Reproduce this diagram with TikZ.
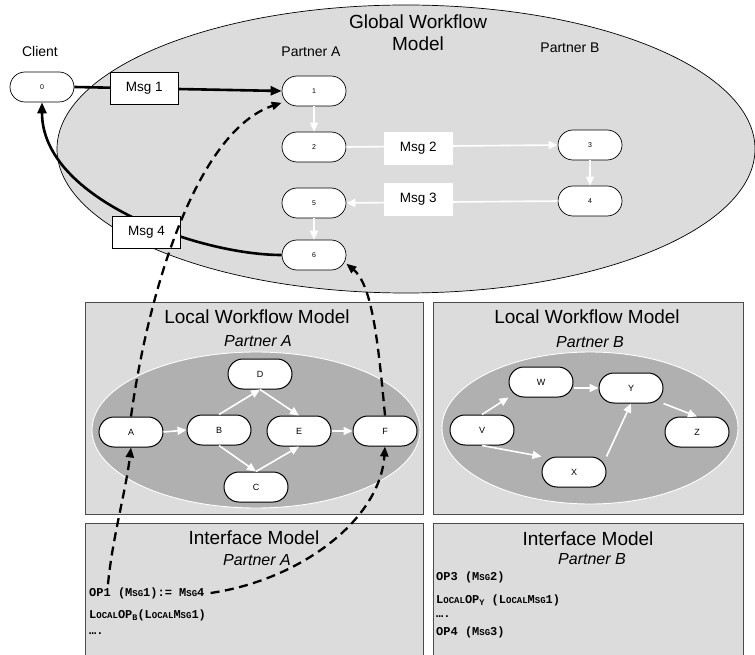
\documentclass[tikz,border=0pt]{standalone}
\usepackage{fontspec}
\setmainfont{Liberation Sans}
\newfontfamily\codefont{Liberation Mono}
\usetikzlibrary{arrows.meta}

\definecolor{modelgray}{RGB}{220,220,220}
\definecolor{poolgray}{RGB}{176,176,176}

\newcommand\fsz[1]{\fontsize{#1}{#1}\selectfont}
% reduced capitals for the operation names
\newcommand\lowcaps[1]{{\fontsize{9}{9}\selectfont #1}}
\newcommand\opsub[1]{\raisebox{-2.5pt}{\fontsize{8.5}{9}\selectfont #1}}

\begin{document}
\begin{tikzpicture}[x=1pt, y=-1pt,
  gnode/.style={draw, fill=white, line width=0.7pt, rounded corners=15pt, minimum width=64pt, minimum height=30pt, inner sep=0pt, font=\fsz{7}},
  lnode/.style={gnode, line width=1pt, font=\fsz{9}},
  msgbox/.style={draw, fill=white, line width=0.9pt, minimum width=68pt, minimum height=32pt, inner sep=0pt, font=\fsz{13.5}},
  heading/.style={font=\fontsize{19}{22}\selectfont, align=center},
  partner/.style={font=\fsz{16}\itshape},
  lane/.style={font=\fsz{14}},
  ifline/.style={anchor=west, inner sep=0pt, font=\codefont\bfseries\fsz{12}},
  panel/.style={draw=black!70, fill=modelgray, line width=0.9pt},
  pool/.style={draw=white, fill=poolgray, line width=0.9pt},
  passflow/.style={draw=white, line width=1.6pt, -{Triangle[length=9pt,width=8pt,fill=white]}},
  msgflow/.style={line width=2.6pt, -{Triangle[length=11pt,width=9pt]}},
  linkflow/.style={line width=2.3pt, dash pattern=on 9pt off 5.5pt, -{Triangle[length=10pt,width=8pt]}}]
\useasboundingbox (0,0) rectangle (755,655);

% global model
\draw[fill=modelgray, line width=0.7pt] (406,149) ellipse [x radius=349, y radius=144];
\node[heading] (gwm) at (418,33) {Global Workflow\\Model};
\node[lane] (client) at (40,51) {Client};
\node[lane] (pa) at (311,52) {Partner A};
\node[lane] (pb) at (570,48) {Partner B};

\node[gnode] (n0) at (42,87) {0};
\node[gnode] (n1) at (314,91) {1};
\node[gnode] (n2) at (314,147) {2};
\node[gnode] (n3) at (590,145) {3};
\node[gnode] (n4) at (590,201) {4};
\node[gnode] (n5) at (314,203) {5};
\node[gnode] (n6) at (314,255) {6};

\draw[passflow] (n1) -- (n2);
\draw[passflow] (n3) -- (n4);
\draw[passflow] (n5) -- (n6);
\draw[passflow] (n2.east) -- node[msgbox, pos=.34, yshift=-2pt] (m2) {Msg 2} (n3.west);
\draw[passflow] (n4.west) -- node[msgbox, pos=.66, yshift=3pt] (m3) {Msg 3} (n5.east);
\draw[msgflow] (n0.east) -- node[msgbox, pos=.337] (m1) {Msg 1} (n1.west);
\draw[msgflow] (n6.west) .. controls (200,255) and (42,200) .. node[msgbox, pos=.45, yshift=-10pt] (m4) {Msg 4} (n0.south);

% local model, partner A
\draw[panel] (85,302) rectangle (423,514);
\node[heading] (lwa) at (257,317) {Local Workflow Model};
\node[partner] (lwpa) at (258,341) {Partner A};
\draw[pool] (256,430) ellipse [x radius=164, y radius=78];
\node[lnode] (A) at (131,432) {A};
\node[lnode] (B) at (219,430) {B};
\node[lnode] (D) at (260,374) {D};
\node[lnode] (E) at (299,431) {E};
\node[lnode] (C) at (256,487) {C};
\node[lnode] (F) at (385,431) {F};
\draw[passflow] (A.east) -- (B.west);
\draw[passflow] (B.north) -- (D.south);
\draw[passflow] (D.south) -- (E.north);
\draw[passflow] (B.south) -- (C.north);
\draw[passflow] (C.north) -- (E.south);
\draw[passflow] (E.east) -- (F.west);

% local model, partner B
\draw[panel] (433,302) rectangle (743,514);
\node[heading] (lwb) at (587,317) {Local Workflow Model};
\node[partner] (lwpb) at (590,342) {Partner B};
\draw[pool] (590,428) ellipse [x radius=148, y radius=76];
\node[lnode] (V) at (482,430) {V};
\node[lnode] (W) at (541,382) {W};
\node[lnode] (Y) at (631,388) {Y};
\node[lnode] (Z) at (697,432) {Z};
\node[lnode] (X) at (574,472) {X};
\draw[passflow] (V.north) -- (W.south west);
\draw[passflow] (W.east |- Y.west) -- (Y.west);
\draw[passflow] (Y.south east) -- (Z.north);
\draw[passflow] (V.south) -- (X.north west);
\draw[passflow] (X.north east) -- (Y.south);

% interface models
\draw[panel] (85,523) rectangle (423,668);
\node[heading] (ima) at (254,538) {Interface Model};
\node[partner] (impa) at (257,560) {Partner A};
\node[ifline] (op1) at (89,593) {OP1 (M\lowcaps{SG}1):= M\lowcaps{SG}4};
\node[ifline] (lop1) at (89,615) {L\lowcaps{OCAL}OP\opsub{B}(L\lowcaps{OCAL}M\lowcaps{SG}1)};
\node[ifline] (etc1) at (89,634) {….};

\draw[panel] (433,523) rectangle (743,668);
\node[heading] (imb) at (588,539) {Interface Model};
\node[partner] (impb) at (592,559) {Partner B};
\node[ifline] (op3) at (436,577) {OP3 (M\lowcaps{SG}2)};
\node[ifline] (lop2) at (436,600) {L\lowcaps{OCAL}OP\opsub{Y} (L\lowcaps{OCAL}M\lowcaps{SG}1)};
\node[ifline] (etc2) at (436,617) {….};
\node[ifline] (op4) at (436,632) {OP4 (M\lowcaps{SG}3)};

% mappings between the models
\draw[linkflow] ([xshift=19pt,yshift=3pt]op1.north west) .. controls (112,540) and (126,490) .. (A.south);
\draw[linkflow] (A.north) .. controls (150,280) and (200,130) .. (n1.200);
\draw[linkflow] ([xshift=6pt]op1.east) .. controls (300,580) and (380,520) .. (F.south);
\draw[linkflow] (F.north) .. controls (378,340) and (372,285) .. (n6.-15);
\end{tikzpicture}
\end{document}
